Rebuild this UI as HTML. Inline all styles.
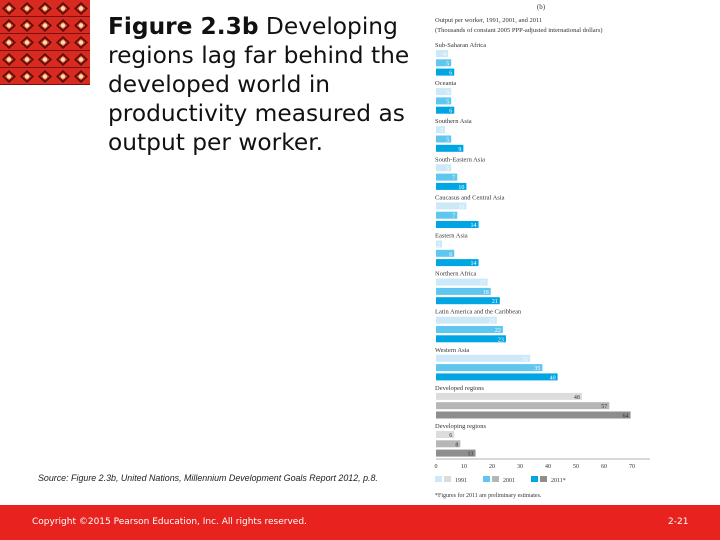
<!DOCTYPE html>
<html><head><meta charset="utf-8"><style>
body{margin:0;width:720px;height:540px;position:relative;background:#fff;font-family:"Liberation Sans",sans-serif;overflow:hidden}
#title{position:absolute;left:108px;top:12px;font-family:"DejaVu Sans",sans-serif;font-size:23.3px;line-height:29px;color:#111;width:330px}
#source{position:absolute;left:38px;top:473px;font-size:8.9px;font-style:italic;color:#222}
#footer{position:absolute;left:0;top:505px;width:720px;height:35px;background:#e8221f;color:#fff;font-size:9px;font-family:"DejaVu Sans",sans-serif}
</style></head><body>
<svg style="position:absolute;left:0;top:0" width="90" height="85">
<defs><pattern id="p" width="18" height="17" patternUnits="userSpaceOnUse">
<rect width="18" height="17" fill="#d92a20"/><rect y="16" width="18" height="1" fill="#7a1010"/>
<polygon points="9,2 16,8.5 9,15 2,8.5" fill="#5a0d0d"/><polygon points="9,4.5 13.5,8.5 9,12.5 4.5,8.5" fill="#e04a2a"/>
<circle cx="9" cy="8.5" r="2.2" fill="#fbe0b0"/></pattern></defs>
<rect width="90" height="85" fill="url(#p)"/></svg>
<div id="title"><b>Figure 2.3b</b> Developing regions lag far behind the developed world in productivity measured as output per worker.</div>
<div id="source">Source: Figure 2.3b, United Nations, Millennium Development Goals Report 2012, p.8.</div>
<div id="footer"><span style="position:absolute;left:32px;top:12px">Copyright ©2015 Pearson Education, Inc. All rights reserved.</span><span style="position:absolute;left:668px;top:12px">2-21</span></div>
<svg id="chart" style="position:absolute;left:0;top:0" width="720" height="505" font-family="Liberation Serif, serif"></svg>
<script>
const regions=["Sub-Saharan Africa","Oceania","Southern Asia","South-Eastern Asia","Caucasus and Central Asia","Eastern Asia","Northern Africa","Latin America and the Caribbean","Western Asia","Developed regions","Developing regions"];
const v1991=[4,5,3,5,10,2,17,20,31,48,6];
const v2001=[5,5,5,7,7,6,18,22,35,57,8];
const v2011=[6,6,9,10,14,14,21,23,40,64,13];
const ticks=[0,10,20,30,40,50,60,70];
const svg=document.getElementById('chart');const NS='http://www.w3.org/2000/svg';
function mk(t,a,p){const e=document.createElementNS(NS,t);for(const k in a)e.setAttribute(k,a[k]);(p||svg).appendChild(e);return e;}
const x0=436;
const xb=v=>x0+v*3.04;
const xt=v=>x0+v*2.8;
const gy=i=>45+i*38.1;
const blue=["#cbe9f8","#5ec6ef","#00a5e3"],grey=["#dcdcdc","#b6b6b6","#8e8e8e"];
let t=mk('text',{x:541,y:9,'font-size':7,fill:'#333','text-anchor':'middle'});t.textContent='(b)';

t=mk('text',{x:435,y:22,'font-size':6.5,fill:'#333'});t.textContent='Output per worker, 1991, 2001, and 2011';

t=mk('text',{x:435,y:32,'font-size':6.5,fill:'#333'});t.textContent='(Thousands of constant 2005 PPP-adjusted international dollars)';

regions.forEach((r,i)=>{
 const y=gy(i);const cols=i>=9?grey:blue;
 let l=mk('text',{x:435,y:y+2,'font-size':6.5,fill:'#333'});l.textContent=r;
 
 [v1991[i],v2001[i],v2011[i]].forEach((v,j)=>{
  const by=y+5+j*9.3;
  const b=mk('rect',{x:x0,y:by,width:xb(v)-x0,height:7,fill:cols[j]});
  
  const tx=mk('text',{x:xb(v)-2,y:by+6,'font-size':6,fill:i>=9?'#333':'#fff','text-anchor':'end'});tx.textContent=v;
  
 });
});
let ax=mk('line',{x1:x0,x2:650,y1:459,y2:459,stroke:'#999','stroke-width':0.7});

ticks.forEach(v=>{const e=mk('text',{x:xt(v),y:468,'font-size':6,fill:'#333','text-anchor':'middle'});e.textContent=v;
 });
["1991","2001","2011*"].forEach((s,j)=>{
 const lx=435+j*48;
 const g=mk('g',{});
 mk('rect',{x:lx,y:476,width:7,height:6,fill:blue[j]},g);mk('rect',{x:lx+9,y:476,width:7,height:6,fill:grey[j]},g);
 const e=mk('text',{x:lx+20,y:482,'font-size':6,fill:'#333'},g);e.textContent=s;
});
t=mk('text',{x:435,y:497,'font-size':6,fill:'#333'});t.textContent='*Figures for 2011 are preliminary estimates.';

</script>
</body></html>
